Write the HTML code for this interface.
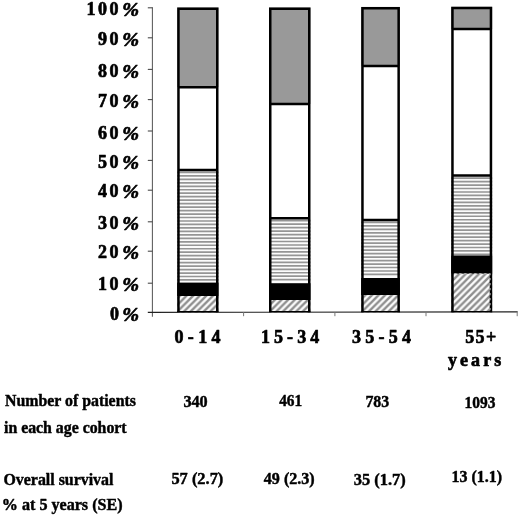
<!DOCTYPE html>
<html><head><meta charset="utf-8"><title>chart</title>
<style>
html,body{margin:0;padding:0;background:#fff;}
svg{display:block;}
text{font-family:"Liberation Serif",serif;font-weight:bold;fill:#000;stroke:#000;stroke-width:0.45px;stroke-linejoin:round;}
.ax text{stroke-width:0.65px;}
</style></head><body>
<svg width="520" height="516" viewBox="0 0 520 516">
<defs>
<pattern id="dg" patternUnits="userSpaceOnUse" width="6.6" height="6.6" x="0.5" y="0">
<rect width="6.6" height="6.6" fill="#fdfdfd"/>
<path d="M-3.3,3.3 L3.3,-3.3 M0,6.6 L6.6,0 M3.3,9.9 L9.9,3.3" stroke="#8e8e8e" stroke-width="2.4"/>
</pattern>
<filter id="soft" x="-2%" y="-2%" width="104%" height="104%" color-interpolation-filters="sRGB"><feGaussianBlur stdDeviation="0.45"/></filter>
</defs>
<rect width="520" height="516" fill="#fff"/>

<g fill="none">
<path d="M152.4,7.3 V316.8" stroke="#5a5a5a" stroke-width="1.05"/>
<path d="M147.8,312.4 L517.7,311.8" stroke="#222" stroke-width="1.15"/>
<path d="M147.8,283.20 H152.5" stroke="#4a4a4a" stroke-width="1.1"/>
<path d="M147.8,251.20 H152.5" stroke="#4a4a4a" stroke-width="1.1"/>
<path d="M147.8,221.80 H152.5" stroke="#4a4a4a" stroke-width="1.1"/>
<path d="M147.8,190.20 H152.5" stroke="#4a4a4a" stroke-width="1.1"/>
<path d="M147.8,160.40 H152.5" stroke="#4a4a4a" stroke-width="1.1"/>
<path d="M147.8,131.00 H152.5" stroke="#4a4a4a" stroke-width="1.1"/>
<path d="M147.8,99.60 H152.5" stroke="#4a4a4a" stroke-width="1.1"/>
<path d="M147.8,69.40 H152.5" stroke="#4a4a4a" stroke-width="1.1"/>
<path d="M147.8,37.80 H152.5" stroke="#4a4a4a" stroke-width="1.1"/>
<path d="M147.8,7.80 H152.5" stroke="#4a4a4a" stroke-width="1.1"/>
<path d="M243.6,312.2 V316.2" stroke="#777" stroke-width="1"/>
<path d="M334.9,312.2 V316.2" stroke="#777" stroke-width="1"/>
<path d="M426.0,312.2 V316.2" stroke="#777" stroke-width="1"/>
<path d="M517.2,312.2 V316.2" stroke="#777" stroke-width="1"/>
</g>
<rect x="177.20" y="7.50" width="41.30" height="79.70" fill="#999"/>
<rect x="177.20" y="87.20" width="41.30" height="82.70" fill="#fff"/>
<rect x="177.20" y="169.90" width="41.30" height="112.70" fill="#fbfbfb"/>
<path d="M177.20,172.40 H218.50 M177.20,175.87 H218.50 M177.20,179.34 H218.50 M177.20,182.81 H218.50 M177.20,186.28 H218.50 M177.20,189.75 H218.50 M177.20,193.22 H218.50 M177.20,196.69 H218.50 M177.20,200.16 H218.50 M177.20,203.63 H218.50 M177.20,207.10 H218.50 M177.20,210.57 H218.50 M177.20,214.04 H218.50 M177.20,217.51 H218.50 M177.20,220.98 H218.50 M177.20,224.45 H218.50 M177.20,227.92 H218.50 M177.20,231.39 H218.50 M177.20,234.86 H218.50 M177.20,238.33 H218.50 M177.20,241.80 H218.50 M177.20,245.27 H218.50 M177.20,248.74 H218.50 M177.20,252.21 H218.50 M177.20,255.68 H218.50 M177.20,259.15 H218.50 M177.20,262.62 H218.50 M177.20,266.09 H218.50 M177.20,269.56 H218.50 M177.20,273.03 H218.50 M177.20,276.50 H218.50 M177.20,279.97 H218.50" stroke="#959595" stroke-width="1.7" fill="none"/>
<rect x="177.20" y="282.60" width="41.30" height="13.40" fill="#000"/>
<rect x="177.20" y="296.00" width="41.30" height="16.20" fill="url(#dg)"/>
<path d="M178.45,312.30 V8.75 H217.25 V312.30 M177.20,87.20 H218.50 M177.20,169.90 H218.50" stroke="#000" stroke-width="2.5" fill="none"/>
<path d="M177.20,311.70 H218.50" stroke="#000" stroke-width="1.3" fill="none"/>
<rect x="269.00" y="7.50" width="41.50" height="96.50" fill="#999"/>
<rect x="269.00" y="104.00" width="41.50" height="114.20" fill="#fff"/>
<rect x="269.00" y="218.20" width="41.50" height="65.00" fill="#fbfbfb"/>
<path d="M269.00,220.70 H310.50 M269.00,224.17 H310.50 M269.00,227.64 H310.50 M269.00,231.11 H310.50 M269.00,234.58 H310.50 M269.00,238.05 H310.50 M269.00,241.52 H310.50 M269.00,244.99 H310.50 M269.00,248.46 H310.50 M269.00,251.93 H310.50 M269.00,255.40 H310.50 M269.00,258.87 H310.50 M269.00,262.34 H310.50 M269.00,265.81 H310.50 M269.00,269.28 H310.50 M269.00,272.75 H310.50 M269.00,276.22 H310.50 M269.00,279.69 H310.50" stroke="#959595" stroke-width="1.7" fill="none"/>
<rect x="269.00" y="283.20" width="41.50" height="16.80" fill="#000"/>
<rect x="269.00" y="300.00" width="41.50" height="12.20" fill="url(#dg)"/>
<path d="M270.25,312.30 V8.75 H309.25 V312.30 M269.00,104.00 H310.50 M269.00,218.20 H310.50" stroke="#000" stroke-width="2.5" fill="none"/>
<path d="M269.00,311.70 H310.50" stroke="#000" stroke-width="1.3" fill="none"/>
<rect x="361.20" y="6.90" width="38.70" height="59.00" fill="#999"/>
<rect x="361.20" y="65.90" width="38.70" height="154.00" fill="#fff"/>
<rect x="361.20" y="219.90" width="38.70" height="58.10" fill="#fbfbfb"/>
<path d="M361.20,222.40 H399.90 M361.20,225.87 H399.90 M361.20,229.34 H399.90 M361.20,232.81 H399.90 M361.20,236.28 H399.90 M361.20,239.75 H399.90 M361.20,243.22 H399.90 M361.20,246.69 H399.90 M361.20,250.16 H399.90 M361.20,253.63 H399.90 M361.20,257.10 H399.90 M361.20,260.57 H399.90 M361.20,264.04 H399.90 M361.20,267.51 H399.90 M361.20,270.98 H399.90 M361.20,274.45 H399.90" stroke="#959595" stroke-width="1.7" fill="none"/>
<rect x="361.20" y="278.00" width="38.70" height="17.20" fill="#000"/>
<rect x="361.20" y="295.20" width="38.70" height="17.00" fill="url(#dg)"/>
<path d="M362.45,312.30 V8.15 H398.65 V312.30 M361.20,65.90 H399.90 M361.20,219.90 H399.90" stroke="#000" stroke-width="2.5" fill="none"/>
<path d="M361.20,311.70 H399.90" stroke="#000" stroke-width="1.3" fill="none"/>
<rect x="451.20" y="6.80" width="41.00" height="22.20" fill="#999"/>
<rect x="451.20" y="29.00" width="41.00" height="146.60" fill="#fff"/>
<rect x="451.20" y="175.60" width="41.00" height="79.90" fill="#fbfbfb"/>
<path d="M451.20,178.10 H492.20 M451.20,181.57 H492.20 M451.20,185.04 H492.20 M451.20,188.51 H492.20 M451.20,191.98 H492.20 M451.20,195.45 H492.20 M451.20,198.92 H492.20 M451.20,202.39 H492.20 M451.20,205.86 H492.20 M451.20,209.33 H492.20 M451.20,212.80 H492.20 M451.20,216.27 H492.20 M451.20,219.74 H492.20 M451.20,223.21 H492.20 M451.20,226.68 H492.20 M451.20,230.15 H492.20 M451.20,233.62 H492.20 M451.20,237.09 H492.20 M451.20,240.56 H492.20 M451.20,244.03 H492.20 M451.20,247.50 H492.20 M451.20,250.97 H492.20 M451.20,254.44 H492.20" stroke="#959595" stroke-width="1.7" fill="none"/>
<rect x="451.20" y="255.50" width="41.00" height="18.30" fill="#000"/>
<rect x="451.20" y="273.80" width="41.00" height="38.40" fill="url(#dg)"/>
<path d="M452.45,312.30 V8.05 H490.95 V312.30 M451.20,29.00 H492.20 M451.20,175.60 H492.20" stroke="#000" stroke-width="2.5" fill="none"/>
<path d="M451.20,311.70 H492.20" stroke="#000" stroke-width="1.3" fill="none"/>
<path d="M454.2,273.7 H490 V311.2" stroke="#c8c8c8" stroke-width="1.1" stroke-dasharray="2.4 2.6" fill="none"/>
<g filter="url(#soft)">
<g class="ax">
<text x="122.2" y="321.00" font-size="19" font-style="italic" textLength="16.8" lengthAdjust="spacingAndGlyphs">%</text>
<text x="110.10" y="320.00" font-size="18" textLength="8.3" lengthAdjust="spacing">0</text>
<text x="122.2" y="291.00" font-size="19" font-style="italic" textLength="16.8" lengthAdjust="spacingAndGlyphs">%</text>
<text x="97.90" y="290.00" font-size="18" textLength="20.5" lengthAdjust="spacing">10</text>
<text x="122.2" y="259.00" font-size="19" font-style="italic" textLength="16.8" lengthAdjust="spacingAndGlyphs">%</text>
<text x="97.90" y="258.00" font-size="18" textLength="20.5" lengthAdjust="spacing">20</text>
<text x="122.2" y="230.00" font-size="19" font-style="italic" textLength="16.8" lengthAdjust="spacingAndGlyphs">%</text>
<text x="97.90" y="229.00" font-size="18" textLength="20.5" lengthAdjust="spacing">30</text>
<text x="122.2" y="198.00" font-size="19" font-style="italic" textLength="16.8" lengthAdjust="spacingAndGlyphs">%</text>
<text x="97.90" y="197.00" font-size="18" textLength="20.5" lengthAdjust="spacing">40</text>
<text x="122.2" y="169.00" font-size="19" font-style="italic" textLength="16.8" lengthAdjust="spacingAndGlyphs">%</text>
<text x="97.90" y="168.00" font-size="18" textLength="20.5" lengthAdjust="spacing">50</text>
<text x="122.2" y="140.00" font-size="19" font-style="italic" textLength="16.8" lengthAdjust="spacingAndGlyphs">%</text>
<text x="97.90" y="139.00" font-size="18" textLength="20.5" lengthAdjust="spacing">60</text>
<text x="122.2" y="108.00" font-size="19" font-style="italic" textLength="16.8" lengthAdjust="spacingAndGlyphs">%</text>
<text x="97.90" y="107.00" font-size="18" textLength="20.5" lengthAdjust="spacing">70</text>
<text x="122.2" y="78.00" font-size="19" font-style="italic" textLength="16.8" lengthAdjust="spacingAndGlyphs">%</text>
<text x="97.90" y="77.00" font-size="18" textLength="20.5" lengthAdjust="spacing">80</text>
<text x="122.2" y="46.00" font-size="19" font-style="italic" textLength="16.8" lengthAdjust="spacingAndGlyphs">%</text>
<text x="97.90" y="45.00" font-size="18" textLength="20.5" lengthAdjust="spacing">90</text>
<text x="122.2" y="16.00" font-size="19" font-style="italic" textLength="16.8" lengthAdjust="spacingAndGlyphs">%</text>
<text x="86.40" y="15.00" font-size="18" textLength="32" lengthAdjust="spacing">100</text>
<text x="174.5" y="342.9" font-size="18" textLength="46.1" lengthAdjust="spacing">0-14</text>
<text x="261" y="342.9" font-size="18" textLength="58.2" lengthAdjust="spacing">15-34</text>
<text x="352.1" y="342.9" font-size="18" textLength="58.9" lengthAdjust="spacing">35-54</text>
<text x="465.2" y="342.9" font-size="18" textLength="31.0" lengthAdjust="spacing">55+</text>
<text x="448" y="366" font-size="18" textLength="53.2" lengthAdjust="spacing">years</text>
</g>
<text x="5.0" y="406" font-size="16.5" textLength="130.9" lengthAdjust="spacingAndGlyphs">Number of patients</text>
<text x="4.0" y="433" font-size="16.5" textLength="122.6" lengthAdjust="spacingAndGlyphs">in each age cohort</text>
<text x="3.5" y="484.5" font-size="16.5" textLength="109.9" lengthAdjust="spacingAndGlyphs">Overall survival</text>
<text x="1.8" y="510" font-size="16.5" textLength="120.8" lengthAdjust="spacingAndGlyphs">% at 5 years (SE)</text>
<text x="183.4" y="407" font-size="16.5" textLength="24.3" lengthAdjust="spacingAndGlyphs">340</text>
<text x="279.2" y="406" font-size="16.5" textLength="23.0" lengthAdjust="spacingAndGlyphs">461</text>
<text x="365.4" y="407" font-size="16.5" textLength="23.8" lengthAdjust="spacingAndGlyphs">783</text>
<text x="464.5" y="408" font-size="16.5" textLength="30.9" lengthAdjust="spacingAndGlyphs">1093</text>
<text x="171.4" y="483.8" font-size="16.5" textLength="51.9" lengthAdjust="spacingAndGlyphs">57 (2.7)</text>
<text x="263.8" y="483.8" font-size="16.5" textLength="50.9" lengthAdjust="spacingAndGlyphs">49 (2.3)</text>
<text x="353.8" y="484.5" font-size="16.5" textLength="52.0" lengthAdjust="spacingAndGlyphs">35 (1.7)</text>
<text x="451.5" y="482" font-size="16.5" textLength="50.5" lengthAdjust="spacingAndGlyphs">13 (1.1)</text>
</g>
</svg></body></html>
